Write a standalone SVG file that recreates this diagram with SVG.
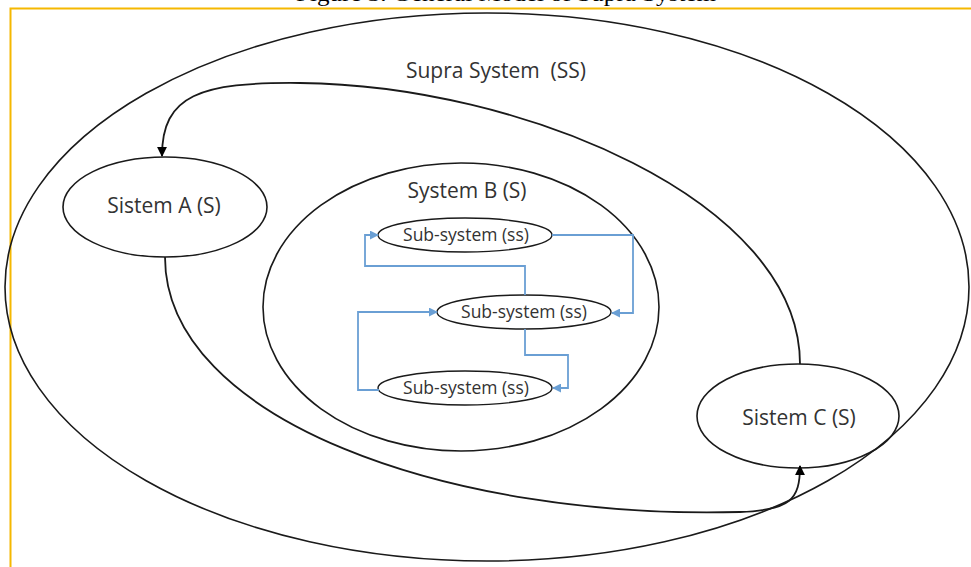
<svg xmlns="http://www.w3.org/2000/svg" width="971" height="567" viewBox="0 0 971 567">
<defs>
<style>
.sys{fill:none;stroke:#1a1a1a;stroke-width:1.6}
.sub{fill:none;stroke:#1a1a1a;stroke-width:1.4}
.lbl{font-family:"Open Sans","Liberation Sans",sans-serif;font-size:21px;fill:#333;text-anchor:middle}
.slbl{font-family:"Open Sans","Liberation Sans",sans-serif;font-size:17.5px;fill:#333;text-anchor:middle}
.blk{fill:none;stroke:#1a1a1a;stroke-width:1.8}
.blue{fill:none;stroke:#6a9fd4;stroke-width:1.8}
</style>
<marker id="ab" viewBox="0 0 10 10" refX="9" refY="5" markerWidth="5.5" markerHeight="5.5" orient="auto" markerUnits="strokeWidth"><path d="M0,0L10,5L0,10z" fill="#000"/></marker>
<marker id="au" viewBox="0 0 10 10" refX="9" refY="5" markerWidth="5" markerHeight="5" orient="auto" markerUnits="strokeWidth"><path d="M0,0L10,5L0,10z" fill="#6a9fd4"/></marker>
</defs>
<rect width="971" height="567" fill="#fff"/>
<text x="296" y="1" font-family="Liberation Serif,serif" font-size="22" textLength="420" lengthAdjust="spacingAndGlyphs" fill="#000">Figure 3. General Model of Supra System</text>
<rect x="10.5" y="8.5" width="980" height="600" fill="none" stroke="#f5b800" stroke-width="2"/>
<g id="supra"><ellipse class="sys" cx="487" cy="287" rx="482" ry="274"/><text class="lbl" x="496" y="78" xml:space="preserve">Supra System  (SS)</text></g>
<g id="sistemA"><ellipse class="sys" cx="165" cy="207" rx="102" ry="50"/><text class="lbl" x="164" y="213">Sistem A (S)</text></g>
<g id="systemB"><ellipse class="sys" cx="461" cy="307" rx="198" ry="144"/><text class="lbl" x="467" y="198">System B (S)</text></g>
<g id="sistemC"><ellipse class="sys" cx="798" cy="416" rx="101" ry="52"/><text class="lbl" x="799" y="425">Sistem C (S)</text></g>
<g id="sub1"><ellipse class="sub" cx="465" cy="235" rx="87" ry="17"/><text class="slbl" x="466" y="241">Sub-system (ss)</text></g>
<g id="sub2"><ellipse class="sub" cx="524" cy="312" rx="87" ry="17"/><text class="slbl" x="524" y="318">Sub-system (ss)</text></g>
<g id="sub3"><ellipse class="sub" cx="465" cy="388" rx="87" ry="17"/><text class="slbl" x="466" y="394">Sub-system (ss)</text></g>
<g id="connectors">
<path class="blk" marker-end="url(#ab)" d="M800,364 C800,200 520,85 300,83 C200,82 162,95 162,156"/>
<path class="blk" marker-end="url(#ab)" d="M165,257 C165,420 450,520 740,512 C790,510 800,500 800,466"/>
<path class="blue" marker-end="url(#au)" d="M552,235 H633 V313 H612"/>
<path class="blue" marker-end="url(#au)" d="M525,295 V266 H365 V235 H378"/>
<path class="blue" marker-end="url(#au)" d="M525,329 V355 H568 V388 H553"/>
<path class="blue" marker-end="url(#au)" d="M379,390 H358 V312 H437"/>
</g>
</svg>
